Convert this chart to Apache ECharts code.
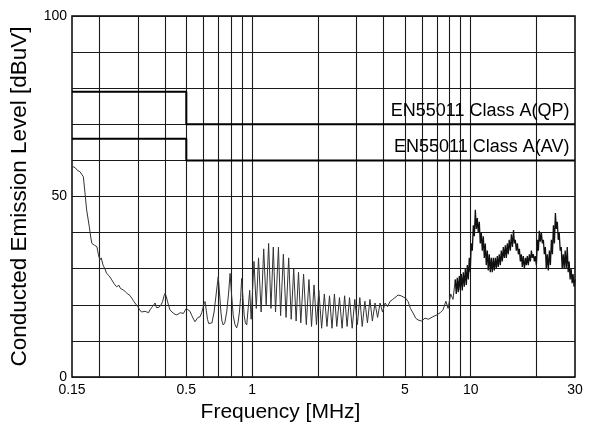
<!DOCTYPE html>
<html><head><meta charset="utf-8">
<script src="https://cdn.jsdelivr.net/npm/echarts@6/dist/echarts.min.js"></script>
<style>html,body{margin:0;padding:0;background:#fff}#c{width:596px;height:430px}</style>
</head><body><div id="c"></div>
<script>
// Vertical grid lines (MHz)
const gridFreqs = [0.2,0.3,0.4,0.5,0.6,0.7,0.8,0.9,1,2,3,4,5,6,7,8,9,10,20];
// Tick labels
const xTickLabels = [0.15,0.5,1,5,10,30];
const yTickLabels = [0,50,100];
// Limit lines
const qpLimitFreq = [0.15,0.5,0.5,30];
const qpLimitLevel = [79,79,70,70];
const avLimitFreq = [0.15,0.5,0.5,30];
const avLimitLevel = [66,66,60,60];
const qpLabel = 'EN55011 Class A(QP)';
const avLabel = 'EN55011 Class A(AV)';
// Measured trace, 0.15 - 8.5 MHz
const traceFreq = [
0.151,0.155,0.159,0.163,0.166,0.169,0.172,0.175,0.178,0.18,0.183,0.185,0.19,0.195,0.198,0.201,0.204,0.208,0.212,0.216,
0.222,0.228,0.234,0.24,0.246,0.25,0.258,0.264,0.27,0.276,0.281,0.286,0.291,0.296,0.30,0.306,0.312,0.318,0.324,0.33,
0.336,0.341,0.346,0.35,0.355,0.36,0.365,0.37,0.375,0.379,0.385,0.39,0.395,0.40,0.405,0.41,0.415,0.421,0.43,0.44,
0.446,0.452,0.46,0.47,0.478,0.485,0.492,0.50,0.509,0.52,0.53,0.54,0.548,0.557,0.565,0.578,0.588,0.595,0.603,0.609,
0.617,0.625,0.633,0.642,0.655,0.67,0.685,0.70,0.71,0.72,0.728,0.738,0.75,0.765,0.78,0.793,0.805,0.82,0.835,0.85,
0.862,0.875,0.886,0.896,0.908,0.92,0.932,0.945,
0.975,0.99,1.02,1.045,1.07,1.10,1.13,1.16,1.19,1.22,1.25,1.28,1.32,1.35,1.39,1.43,1.47,1.51,1.55,1.59,
1.63,1.67,1.72,1.77,1.82,1.87,1.92,1.97,2.02,2.08,2.14,2.20,2.26,2.32,2.38,2.44,2.51,2.58,2.65,2.72,
2.79,2.87,2.95,3.03,3.11,3.19,3.28,3.37,3.46,3.55,3.65,3.75,3.85,3.95,4.06,4.17,
4.27,4.4,4.55,4.65,4.8,4.9,5.05,5.17,5.3,5.45,5.6,5.74,5.95,6.18,6.4,6.72,7.0,7.25,7.47,7.7,7.88,8.1,8.3,8.5
];
const traceLevel = [
58.3,58,57.2,56.9,56.5,55.5,51,46.3,43.5,41.6,38.5,37,36.5,36.1,34,32.4,33,31,30,28.7,
28,26.9,25.8,25,25.4,24.5,24.1,23.5,23,22.6,22.2,21.2,20.5,20,19.5,18.6,18,17.7,18.2,18.5,
17.8,18.6,18.2,19.5,19.8,20.5,19.2,18.8,19.3,19.5,20.2,21,22.4,23.2,22.3,21,19.8,18.6,18,17.5,
17.8,17.2,17.5,17.8,17.3,17.6,18.3,19,19.5,18.2,17,16,15.3,15.8,16.5,16.7,17.8,19,20.3,20.9,
18.5,16,14.8,14.4,15,18,23,27.8,23,18,15.5,14.4,15,18,23,28.7,23,17,14.5,13.6,
15,18,22,27.3,22,17,15,14.4,
24,16,32,19,33,18,35.5,20,37,19,36,18,36,17,34,16.5,33,16,30,15.5,
29,15,28.5,14.5,27,14,25.5,14.5,24,13.5,23,14,22.5,13.5,23,14,22,13.5,22.5,14,
22,13.5,21.5,14.5,22,14,21,15,21.5,15.5,20.5,16.5,20.5,18,20.5,19.5,
20.9,21.5,22.2,22.7,22.5,22.3,21.8,20.9,19,17.7,16.3,15.8,15.5,16.3,16,16.7,17.2,17.8,18.6,21,19,23,21.5,27
];
// Measured trace, 8.5 - 30 MHz (dense band) as [MHz, dBuV]
const bandPoints = [
[8.5,27],[8.59,23],[8.68,27.5],[8.77,23.5],[8.87,28],[8.96,24],[9.06,28.5],[9.15,24],[9.25,29],[9.35,25],
[9.45,30],[9.55,25.5],[9.65,31],[9.75,27],[9.85,33],[9.95,29],[10.06,37],[10.17,35],[10.28,42],[10.39,39],
[10.5,46.3],[10.61,41],[10.72,44],[10.83,40],[10.95,43],[11.06,37],[11.18,40],[11.3,35],[11.42,39],[11.54,33],
[11.66,37],[11.78,31],[11.91,35],[12.03,29.5],[12.16,34],[12.29,29],[12.42,33],[12.55,29],[12.69,33],[12.82,29.5],
[12.96,33],[13.1,30],[13.23,33.5],[13.37,30.5],[13.51,34],[13.66,31],[13.8,35],[13.95,32],[14.1,36],[14.25,33],
[14.4,36.5],[14.55,33],[14.7,37],[14.85,34],[15.0,38],[15.18,35],[15.35,39.5],[15.52,36],[15.7,40.7],[15.85,37],
[16.0,38],[16.17,35],[16.35,37],[16.52,34],[16.7,35.5],[16.87,32],[17.05,34],[17.22,30.5],[17.4,33.5],[17.6,30],
[17.8,33],[17.97,31],[18.15,33.5],[18.35,31],[18.55,34],[18.75,32],[18.95,35],[19.15,33],[19.35,34],[19.55,32],
[19.75,33.5],[19.97,31],[20.2,38],[20.4,35],[20.6,40.5],[20.82,37.5],[21.05,40],[21.27,37],[21.5,38],[21.72,34],
[21.95,36],[22.17,30],[22.4,34],[22.65,29.5],[22.9,35],[23.15,31],[23.4,38],[23.65,34],[23.9,42],[24.15,37],
[24.4,45.4],[24.65,41],[24.9,43],[25.15,38],[25.4,40],[25.67,35],[25.95,36],[26.22,30],[26.5,34],[26.77,30],
[27.05,35],[27.35,30],[27.65,36],[27.92,29],[28.2,32],[28.5,27],[28.8,30],[29.1,26],[29.4,28.5],[29.7,25],[30.0,27]
];

const traceData = traceFreq.map((f, i) => [f, traceLevel[i]]);
const qpData = qpLimitFreq.map((f, i) => [f, qpLimitLevel[i]]);
const avData = avLimitFreq.map((f, i) => [f, avLimitLevel[i]]);

const FONT = '"Liberation Sans", Arial, Helvetica, sans-serif';
const chart = echarts.init(document.getElementById('c'), null, {renderer: 'canvas'});
chart.setOption({
  animation: false,
  backgroundColor: '#fff',
  textStyle: {fontFamily: FONT, color: '#000'},
  grid: {left: 72, right: 21, top: 16, bottom: 53, show: true, borderColor: '#000', borderWidth: 1.5, backgroundColor: 'transparent'},
  xAxis: {
    type: 'log', logBase: 10, min: 0.15, max: 30,
    name: 'Frequency [MHz]', nameLocation: 'middle', nameGap: 15,
    nameTextStyle: {fontFamily: FONT, fontSize: 21, color: '#000', padding: [0, 86, 0, 0]},
    axisLine: {show: false},
    axisTick: {show: false, customValues: gridFreqs},
    axisLabel: {customValues: xTickLabels, fontFamily: FONT, fontSize: 14, color: '#000', margin: 6, formatter: v => String(v)},
    splitLine: {show: true, lineStyle: {color: '#1a1a1a', width: 1.1}},
    minorSplitLine: {show: false}
  },
  yAxis: {
    type: 'value', min: 0, max: 100, interval: 10,
    name: 'Conducted Emission Level [dBuV]', nameLocation: 'middle', nameGap: 41, nameRotate: 90,
    nameTextStyle: {fontFamily: FONT, fontSize: 22.5, color: '#000'},
    axisLine: {show: false},
    axisTick: {show: false},
    axisLabel: {fontFamily: FONT, fontSize: 14, color: '#000', margin: 5,
      formatter: v => (yTickLabels.indexOf(v) >= 0 ? String(v) : '')},
    splitLine: {show: true, lineStyle: {color: '#1a1a1a', width: 1.1}}
  },
  series: [
    {
      type: 'line', data: traceData, showSymbol: false, symbol: 'none', silent: true,
      lineStyle: {color: '#333', width: 1}, z: 3
    },
    {
      type: 'line', data: bandPoints, showSymbol: false, symbol: 'none', silent: true,
      lineStyle: {color: '#111', width: 1.3}, z: 3
    },
    {
      type: 'line', data: qpData, showSymbol: false, symbol: 'none', silent: true,
      lineStyle: {color: '#000', width: 2}, z: 4,
      markPoint: {symbol: 'circle', symbolSize: 0, silent: true,
        label: {show: true, position: 'left', distance: 0, fontFamily: FONT, fontSize: 18, color: '#000', formatter: qpLabel},
        data: [{coord: [28.3, 73.8]}]}
    },
    {
      type: 'line', data: avData, showSymbol: false, symbol: 'none', silent: true,
      lineStyle: {color: '#000', width: 2}, z: 4,
      markPoint: {symbol: 'circle', symbolSize: 0, silent: true,
        label: {show: true, position: 'left', distance: 0, fontFamily: FONT, fontSize: 18, color: '#000', formatter: avLabel},
        data: [{coord: [28.3, 63.6]}]}
    }
  ]
});
</script>
</body></html>
